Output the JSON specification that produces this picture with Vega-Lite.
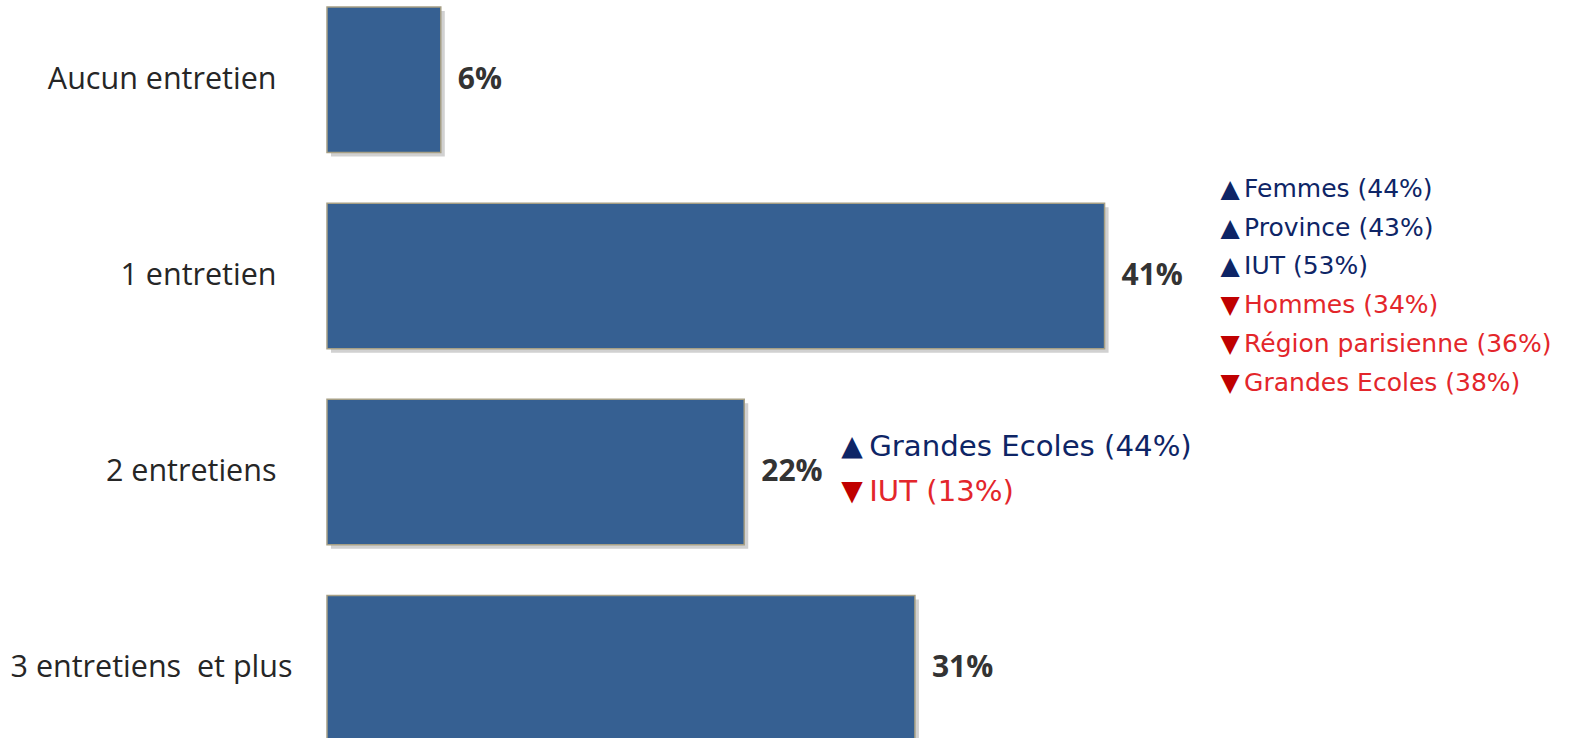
{
  "$schema": "https://vega.github.io/schema/vega-lite/v6.json",
  "width": 1246,
  "height": 741,
  "autosize": {"type": "none"},
  "padding": {"left": 327, "top": 0, "right": 0, "bottom": -3},
  "background": "white",
  "config": {"view": {"stroke": null}, "font": "Open Sans"},
  "datasets": {
    "bars": [
      {"cat": "Aucun entretien", "pct": 0.06},
      {"cat": "1 entretien", "pct": 0.41},
      {"cat": "2 entretiens", "pct": 0.22},
      {"cat": "3 entretiens\u00a0 et plus", "pct": 0.31}
    ],
    "notes": [
      {"cat": "1 entretien", "line": 0, "dir": "up", "label": "Femmes (44%)"},
      {"cat": "1 entretien", "line": 1, "dir": "up", "label": "Province (43%)"},
      {"cat": "1 entretien", "line": 2, "dir": "up", "label": "IUT (53%)"},
      {"cat": "1 entretien", "line": 3, "dir": "down", "label": "Hommes (34%)"},
      {"cat": "1 entretien", "line": 4, "dir": "down", "label": "Région parisienne (36%)"},
      {"cat": "1 entretien", "line": 5, "dir": "down", "label": "Grandes Ecoles (38%)"},
      {"cat": "2 entretiens", "line": 0, "dir": "up", "label": "Grandes Ecoles (44%)"},
      {"cat": "2 entretiens", "line": 1, "dir": "down", "label": "IUT (13%)"}
    ]
  },
  "encoding": {
    "y": {
      "field": "cat",
      "type": "nominal",
      "sort": null,
      "scale": {"paddingInner": 0.258, "paddingOuter": 0.018, "align": 1},
      "axis": {
        "title": null,
        "domain": false,
        "ticks": false,
        "labelFontSize": 30.5,
        "labelColor": "#262626",
        "labelPadding": {"condition": {"test": "test(/plus/, datum.label)", "value": 35}, "value": 51},
        "labelFont": "Open Sans",
        "labelLimit": 400
      }
    },
    "x": {
      "field": "pct",
      "type": "quantitative",
      "scale": {"domain": [0, 0.657]},
      "axis": null
    }
  },
  "layer": [
    {
      "data": {"name": "bars"},
      "mark": {"type": "bar", "color": "#9a9a9a", "opacity": 0.45, "xOffset": 4, "yOffset": 4},
      "encoding": {}
    },
    {
      "data": {"name": "bars"},
      "mark": {"type": "bar", "color": "#366092", "stroke": "#A69F85", "strokeWidth": 1.5},
      "encoding": {}
    },
    {
      "data": {"name": "bars"},
      "mark": {"type": "text", "align": "left", "baseline": "middle", "dx": 17, "fontSize": 30, "fontWeight": "bold", "color": "#333333"},
      "encoding": {"text": {"field": "pct", "type": "quantitative", "format": ".0%"}}
    },
    {
      "data": {"name": "notes"},
      "transform": [
        {"filter": "datum.cat === '1 entretien'"},
        {"lookup": "cat", "from": {"data": {"name": "bars"}, "key": "cat", "fields": ["pct"]}}
      ],
      "layer": [
        {
          "mark": {"type": "text", "align": "left", "baseline": "middle", "dx": 116, "fontSize": 25, "font": "DejaVu Sans"},
          "encoding": {
            "yOffset": {"field": "line", "type": "quantitative", "scale": {"domain": [0, 5], "range": [-14.5, 180]}},
            "text": {"condition": {"test": "datum.dir === 'up'", "value": "▲"}, "value": "▼"},
            "color": {"condition": {"test": "datum.dir === 'up'", "value": "#0E2566"}, "value": "#C00000"}
          }
        },
        {
          "mark": {"type": "text", "align": "left", "baseline": "middle", "dx": 139.5, "fontSize": 25, "font": "DejaVu Sans"},
          "encoding": {
            "yOffset": {"field": "line", "type": "quantitative", "scale": {"domain": [0, 5], "range": [-14.5, 180]}},
            "text": {"field": "label"},
            "color": {"condition": {"test": "datum.dir === 'up'", "value": "#0E2566"}, "value": "#E3262B"}
          }
        }
      ]
    },
    {
      "data": {"name": "notes"},
      "transform": [
        {"filter": "datum.cat === '2 entretiens'"},
        {"lookup": "cat", "from": {"data": {"name": "bars"}, "key": "cat", "fields": ["pct"]}}
      ],
      "layer": [
        {
          "mark": {"type": "text", "align": "left", "baseline": "middle", "dx": 97, "fontSize": 28, "font": "DejaVu Sans"},
          "encoding": {
            "yOffset": {"field": "line", "type": "quantitative", "scale": {"domain": [0, 1], "range": [48, 93]}},
            "text": {"condition": {"test": "datum.dir === 'up'", "value": "▲"}, "value": "▼"},
            "color": {"condition": {"test": "datum.dir === 'up'", "value": "#0E2566"}, "value": "#C00000"}
          }
        },
        {
          "mark": {"type": "text", "align": "left", "baseline": "middle", "dx": 125, "fontSize": 29.2, "font": "DejaVu Sans"},
          "encoding": {
            "yOffset": {"field": "line", "type": "quantitative", "scale": {"domain": [0, 1], "range": [48, 93]}},
            "text": {"field": "label"},
            "color": {"condition": {"test": "datum.dir === 'up'", "value": "#0E2566"}, "value": "#E3262B"}
          }
        }
      ],
      "resolve": {"scale": {"yOffset": "independent"}}
    }
  ],
  "resolve": {"scale": {"yOffset": "independent"}}
}
